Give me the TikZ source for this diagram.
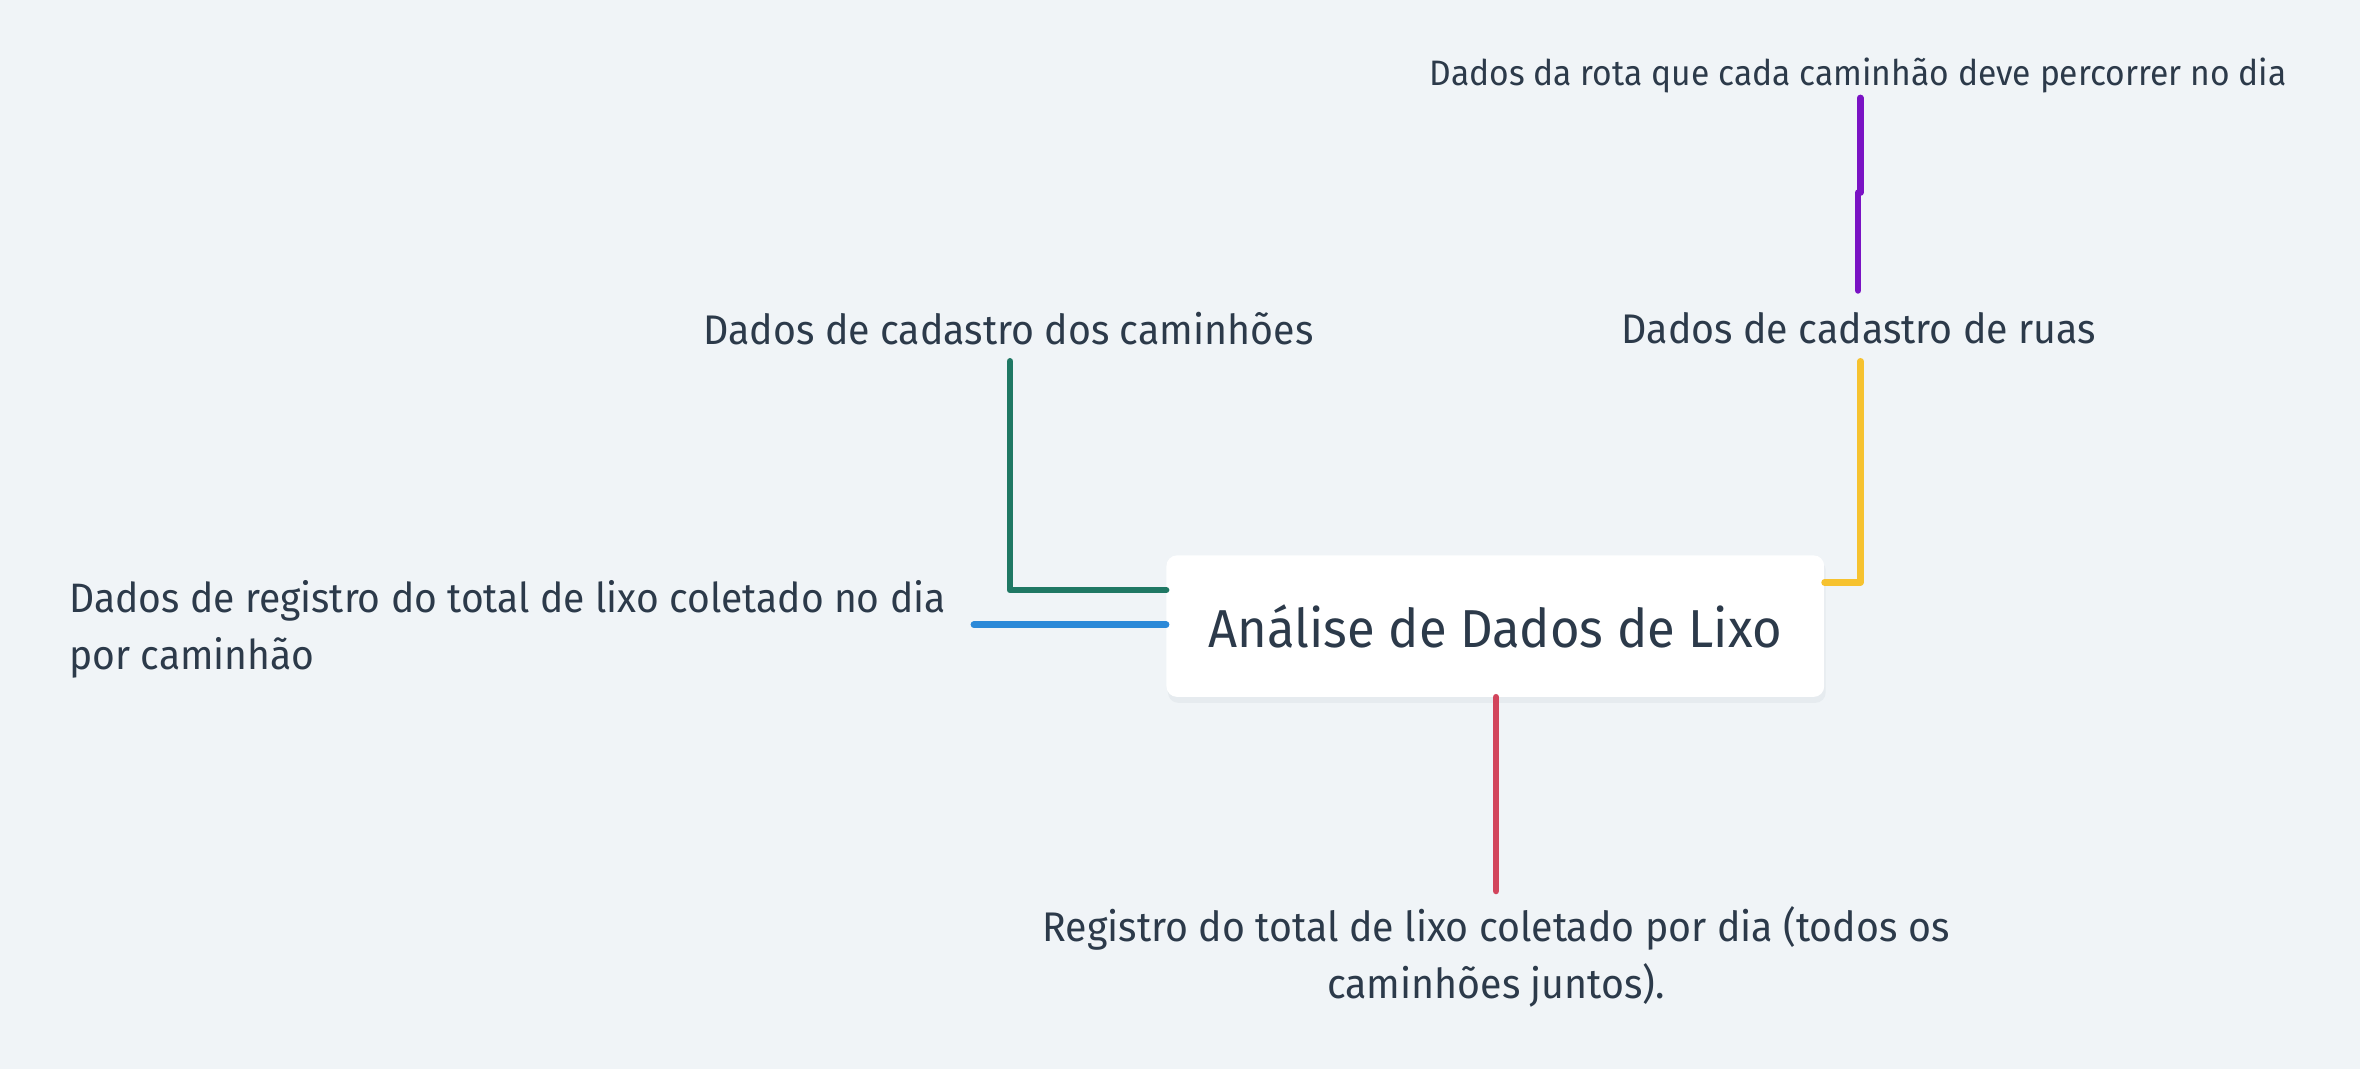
\documentclass[tikz,border=0pt]{standalone}
\usepackage{fontspec}
\setmainfont[FakeStretch=0.95]{Fira Sans}
\definecolor{bg}{RGB}{240,244,247}
\definecolor{txt}{RGB}{44,58,74}
\definecolor{cgreen}{RGB}{31,120,100}
\definecolor{cblue}{RGB}{43,137,216}
\definecolor{cyellow}{RGB}{246,194,47}
\definecolor{cpurple}{RGB}{122,18,196}
\definecolor{cred}{RGB}{210,69,92}
\definecolor{shadow}{RGB}{230,235,239}
\begin{document}
\begin{tikzpicture}[x=1pt,y=-1pt,
  lab/.style={text=txt,inner sep=0pt,font=\fontsize{27.5}{38}\selectfont},
  conn/.style={line width=4.3pt,line cap=round,line join=round}]
\fill[bg] (0,0) rectangle (1568,710);
\useasboundingbox (0,0) rectangle (1568,710);
% central box
\fill[shadow,rounded corners=7pt] (776,372) rectangle (1213,467);
\node[fill=white,rounded corners=7pt,minimum width=437pt,minimum height=94pt,inner sep=0pt,
  text=txt,font=\fontsize{35.5}{40}\selectfont] (center) at (993.5,416) {Análise de Dados de Lixo};
% labels
\node[lab,font=\fontsize{23.5}{24}\selectfont] (lab1) at (1234.5,50) {Dados da rota que cada caminhão deve percorrer no dia};
\node[lab] (lab2) at (1235,218) {Dados de cadastro de ruas};
\node[lab] (lab3) at (670,218) {Dados de cadastro dos caminhões};
\node[lab,align=left,anchor=west,font=\fontsize{27.3}{38}\selectfont] (lab4) at (46,418) {Dados de registro do total de lixo coletado no dia\\por caminhão};
\node[lab,align=center] (lab5) at (994,636) {Registro do total de lixo coletado por dia (todos os\\caminhões juntos).};
% connector ends
\coordinate (g1) at (671,240);
\coordinate (b1) at (647,415);
\coordinate (y1) at (1236,240);
\coordinate (p1) at (1234.5,193);
\coordinate (p2) at (1234.5,128);
\coordinate (p3) at (1236,128);
\coordinate (p4) at (1236,65);
\coordinate (r1) at (994,592);
% connectors
\draw[conn,cgreen] (g1) |- ([yshift=24pt]center.west);
\draw[conn,cblue] (b1) -- (b1 -| center.west);
\draw[conn,cyellow] ([yshift=29pt]center.east) -| (y1);
\draw[conn,cpurple] (p1) -- (p2);
\draw[conn,cpurple] (p3) -- (p4);
\draw[conn,cred] (r1) -- (r1 |- center.south);
\end{tikzpicture}
\end{document}
